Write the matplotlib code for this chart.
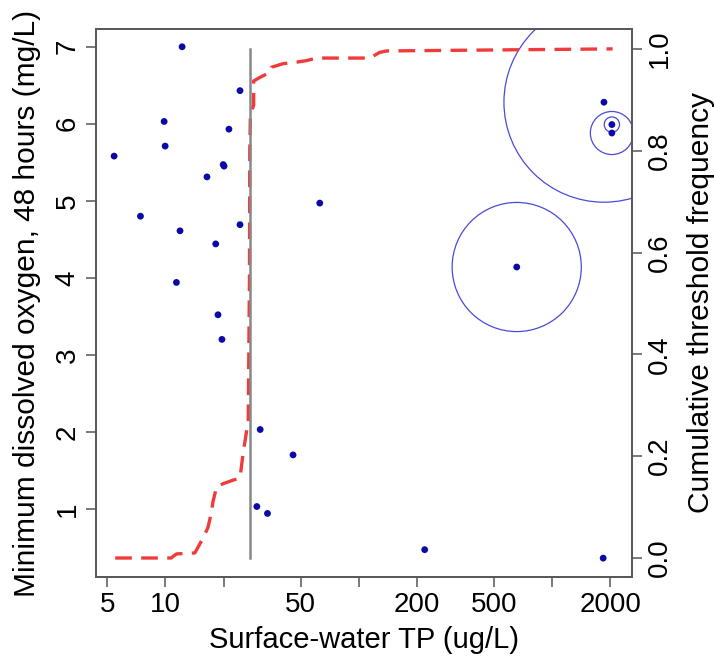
import matplotlib
matplotlib.use("Agg")
import matplotlib.pyplot as plt

plt.rcParams["font.family"] = ["Liberation Sans", "DejaVu Sans"]

# site points: surface-water TP vs minimum DO
tp = [12.2, 24.3, 9.85, 21.3, 9.97, 5.43, 19.9, 20.1, 16.4, 7.43, 11.9, 24.3, 18.2,
      11.4, 18.7, 19.6, 30.9, 45.7, 29.7, 33.7, 62.8, 219, 1833, 655, 1850, 2033, 2033]
do = [7.0, 6.43, 6.03, 5.93, 5.71, 5.58, 5.47, 5.45, 5.31, 4.80, 4.61, 4.69, 4.44,
      3.94, 3.52, 3.20, 2.03, 1.70, 1.03, 0.94, 4.97, 0.47, 0.36, 4.14, 6.28, 5.99, 5.88]

# open circles around some points (radius in pt)
circ_tp = [1850, 655, 2033, 2033]
circ_do = [6.28, 4.14, 5.88, 5.99]
circ_r = [72, 46.5, 15.5, 5.5]

# cumulative threshold frequency curve
cum_tp = [5.5, 10.7, 11.4, 14.2, 15.7, 16.6, 17.3, 17.6, 18.4, 19.9, 22.4, 24.3, 25.2,
          26.3, 26.8, 27.2, 27.3, 27.5, 28.6, 28.6, 30.8, 34.7, 35.4, 40.6, 47.7, 53.7,
          60.4, 114, 128, 139, 2050]
cum_freq = [0.0, 0.0, 0.008, 0.01, 0.04, 0.06, 0.09, 0.11, 0.14, 0.146, 0.153, 0.157,
            0.205, 0.25, 0.265, 0.55, 0.80, 0.87, 0.89, 0.937, 0.944, 0.954, 0.964, 0.971,
            0.974, 0.977, 0.982, 0.982, 0.993, 0.996, 1.0]

threshold = 27.4

xticks = [5, 10, 20, 50, 100, 200, 500, 1000, 2000]
xlabels = ["5", "10", "", "50", "", "200", "500", "", "2000"]

fig = plt.figure(figsize=(7.14, 6.6), dpi=100)
ax = fig.add_axes([0.134, 0.126, 0.751, 0.830])
ax2 = ax.twinx()

ax.scatter(tp, do, s=24, color="#0a0aa8", edgecolors="none", zorder=3)
ax.scatter(circ_tp, circ_do, s=[(2 * r) ** 2 for r in circ_r], facecolors="none",
           edgecolors="#4a4ad8", linewidths=0.9, zorder=2)

ax2.plot(cum_tp, cum_freq, color="#f23a3a", lw=2.4, dashes=(5, 2.8))
ax2.plot([threshold, threshold], [0, 1], color="#888888", lw=1.8)

ax.set_xscale("log")
ax.set_xlim(4.36, 2580)
ax.set_ylim(0.117, 7.23)
ax2.set_ylim(-0.037, 1.039)

ax.set_xticks(xticks)
ax.set_xticklabels(xlabels)
ax.xaxis.set_minor_locator(matplotlib.ticker.NullLocator())
ax.set_yticks([1, 2, 3, 4, 5, 6, 7])
ax2.set_yticks([0, 0.2, 0.4, 0.6, 0.8, 1.0])
ax2.set_yticklabels(["0.0", "0.2", "0.4", "0.6", "0.8", "1.0"])

for a in (ax, ax2):
    a.tick_params(length=7, width=1.1, color="#555555", labelsize=20, pad=4)
    for sp in a.spines.values():
        sp.set_color("#555555")
        sp.set_linewidth(1.2)
for lab in ax.get_yticklabels():
    lab.set_rotation(90)
    lab.set_va("center")
for lab in ax2.get_yticklabels():
    lab.set_rotation(90)
    lab.set_va("center")

ax.set_xlabel("Surface-water TP (ug/L)", fontsize=21, labelpad=6)
ax.set_ylabel("Minimum dissolved oxygen, 48 hours (mg/L)", fontsize=21.5, labelpad=10)
ax2.set_ylabel("Cumulative threshold frequency", fontsize=21.5, labelpad=10)

fig.savefig("out.png", dpi=100)
